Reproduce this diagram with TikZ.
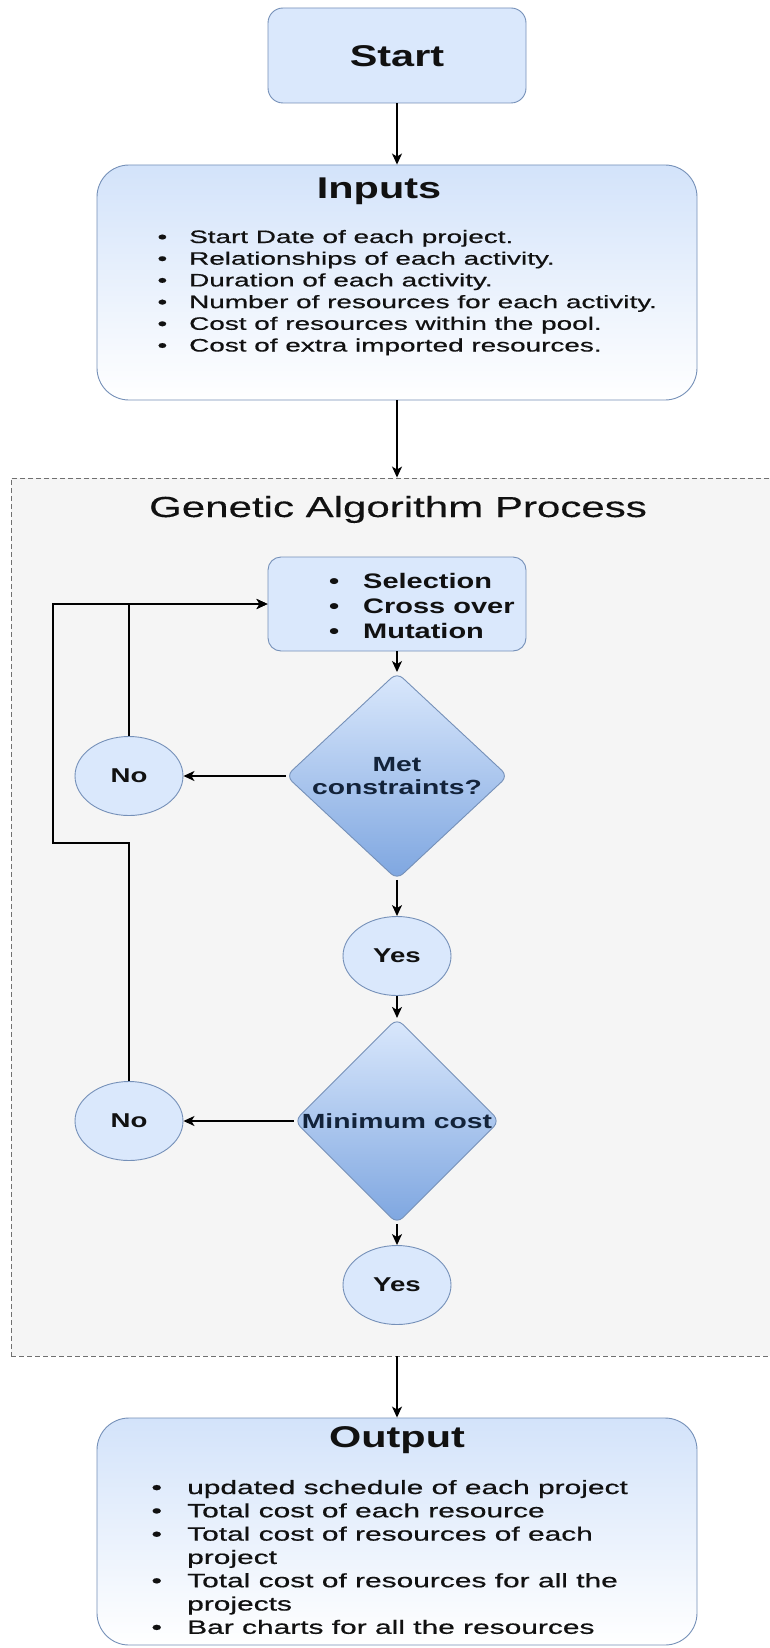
\documentclass[tikz,border=0pt]{standalone}
\usepackage{fontspec}
\setmainfont{Liberation Sans}
\newfontfamily\wideT[FakeStretch=1.38]{Liberation Sans}
\newfontfamily\wideR[FakeStretch=1.45,FakeBold=0.3]{Liberation Sans}
\newfontfamily\wideL[FakeStretch=1.55,FakeBold=0.6]{Liberation Sans}
\usetikzlibrary{shapes.geometric,arrows.meta}
\definecolor{lb}{HTML}{DAE8FC}
\definecolor{lbt}{HTML}{D3E3FA}
\definecolor{db}{HTML}{7EA6E0}
\definecolor{bord}{HTML}{7590B8}
\definecolor{gafill}{HTML}{F5F5F5}
\definecolor{gaedge}{HTML}{707070}
\definecolor{ink}{HTML}{111111}
\definecolor{navy}{HTML}{13233A}
\tikzset{
  box/.style={draw=bord, line width=0.9pt, fill=lb, inner sep=0pt},
  gradbox/.style={draw=bord, line width=0.9pt, top color=lbt, bottom color=white, inner sep=0pt, rounded corners=32pt},
  dia/.style={shape=diamond, draw=bord, line width=0.9pt, top color=lb, bottom color=db, inner sep=0pt, rounded corners=8pt, text=navy, align=center, font=\wideT\bfseries\fontsize{20.5}{23}\selectfont},
  oval/.style={shape=ellipse, draw=bord, line width=0.9pt, fill=lb, inner sep=0pt, minimum width=108pt, minimum height=79pt, text=ink, font=\wideT\bfseries\fontsize{20}{24}\selectfont},
  ttl/.style={text=ink, inner sep=0pt, font=\wideT\bfseries\fontsize{30}{36}\selectfont},
  lstA/.style={text=ink, inner sep=0pt, anchor=base west, font=\wideL\fontsize{18}{21}\selectfont},
  lstB/.style={text=ink, inner sep=0pt, anchor=base west, font=\wideL\fontsize{19.3}{23}\selectfont},
  lstS/.style={text=ink, inner sep=0pt, anchor=base west, font=\wideT\bfseries\fontsize{21}{25}\selectfont},
  arr/.style={-{Stealth[length=11pt,width=10pt,inset=3pt]}, line width=1.4pt, black},
}
\begin{document}
\begin{tikzpicture}[x=1pt,y=-1pt]
\useasboundingbox (0,0) rectangle (770,1648);
\fill[white] (0,0) rectangle (770,1648);
\clip (0,0) rectangle (770,1648);

% container
\node[draw=gaedge, fill=gafill, line width=0.9pt, dash pattern=on 5pt off 3pt,
      minimum width=772pt, minimum height=878pt, inner sep=0pt] (ga) at (397,917) {};
\node[text=ink, inner sep=0pt, anchor=base, font=\wideR\fontsize{29}{34}\selectfont] (gatitle) at (398,517) {Genetic Algorithm Process};

% start
\node[box, rounded corners=15pt, minimum width=258pt, minimum height=95pt] (start) at (397,55.5) {};
\node[ttl, anchor=base] (starttxt) at (397,67) {Start};

% inputs
\node[gradbox, minimum width=600pt, minimum height=235pt] (inputs) at (397,282.5) {};
\node[ttl, anchor=base] (intitle) at (379,198) {Inputs};
\foreach [count=\i] \t in {Start Date of each project., Relationships of each activity., Duration of each activity., Number of resources for each activity., Cost of resources within the pool., Cost of extra imported resources.}
  \node[lstA] (inl\i) at (157.3,{243+21.7*(\i-1)}) {\makebox[31.7pt][l]{•}\t};

% selection box
\node[box, rounded corners=13pt, minimum width=258pt, minimum height=94pt] (sel) at (397,604) {};
\foreach [count=\i] \t in {Selection, Cross over, Mutation}
  \node[lstS] (sl\i) at (329,{588.5+25*(\i-1)}) {\makebox[34pt][l]{•}\t};

% decisions
\node[dia, minimum width=222pt, minimum height=146pt] (d1) at (397,776) {Met\\constraints?};
\node[oval] (no1) at (129,776) {No};
\node[oval] (yes1) at (397,956) {Yes};
\node[dia, minimum width=204pt, minimum height=146pt] (d2) at (397,1121) {Minimum cost};
\node[oval] (no2) at (129,1121) {No};
\node[oval] (yes2) at (397,1285) {Yes};

% output
\node[gradbox, minimum width=600pt, minimum height=227pt] (out) at (397,1531.5) {};
\node[ttl, anchor=base] (outtitle) at (397,1447) {Output};
\node[lstB] (ol1) at (151.3,1494) {\makebox[35.7pt][l]{•}updated schedule of each project};
\node[lstB] (ol2) at (151.3,1517.3) {\makebox[35.7pt][l]{•}Total cost of each resource};
\node[lstB] (ol3) at (151.3,1540.6) {\makebox[35.7pt][l]{•}Total cost of resources of each};
\node[lstB] (ol4) at (187,1563.9) {project};
\node[lstB] (ol5) at (151.3,1587.2) {\makebox[35.7pt][l]{•}Total cost of resources for all the};
\node[lstB] (ol6) at (187,1610.5) {projects};
\node[lstB] (ol7) at (151.3,1633.8) {\makebox[35.7pt][l]{•}Bar charts for all the resources};

% connectors
\draw[arr] (start.south) -- (inputs.north);
\draw[arr] (inputs.south) -- (ga.north);
\draw[arr] (sel.south) -- (d1.north);
\draw[arr] (d1.west) -- (no1.east);
\draw[arr] (d1.south) -- (yes1.north);
\draw[arr] (yes1.south) -- (d2.north);
\draw[arr] (d2.west) -- (no2.east);
\draw[arr] (d2.south) -- (yes2.north);
\draw[arr] (ga.south) -- (out.north);
\coordinate (lp1) at (53,843);
\coordinate (lp2) at (53,604);
\draw[arr] (no1.north) |- (sel.west);
\draw[arr] (no2.north) |- (lp1) -- (lp2) -- (sel.west);
\end{tikzpicture}
\end{document}
